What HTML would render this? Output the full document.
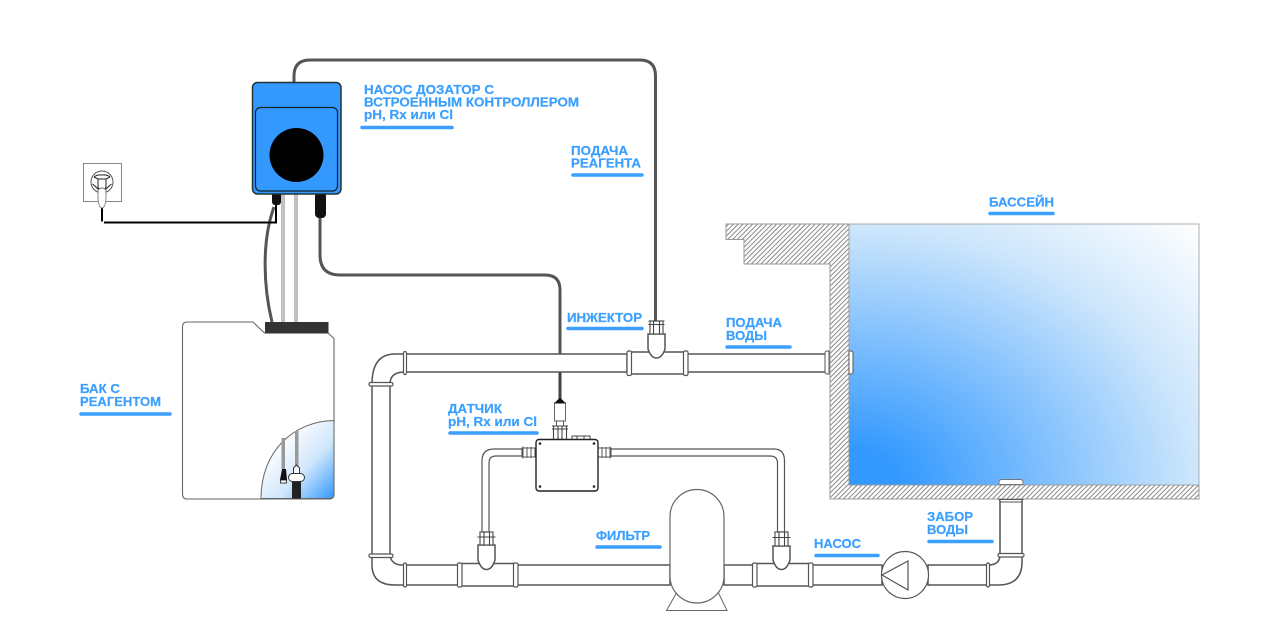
<!DOCTYPE html>
<html><head><meta charset="utf-8"><style>
html,body{margin:0;padding:0;background:#fff}
svg{display:block}
text{font-family:"Liberation Sans",sans-serif;font-weight:700;font-size:13px;fill:#3a9fff;stroke:#3a9fff;stroke-width:.2px}
.u{stroke:#3a9fff;stroke-width:3.5;stroke-linecap:round;fill:none}
.p{fill:#fff;stroke:#555;stroke-width:1.5}
.t{fill:#fff;stroke:#555;stroke-width:1.2}
.c{fill:none;stroke:#555;stroke-width:3}
</style></head><body>
<svg width="1280" height="640" viewBox="0 0 1280 640" xmlns="http://www.w3.org/2000/svg">
<defs>
<pattern id="h" width="3.4" height="3.4" patternUnits="userSpaceOnUse" patternTransform="rotate(45)"><rect width="3.4" height="3.4" fill="#fff"/><rect width="1" height="3.4" fill="#888"/></pattern>
<radialGradient id="pool" cx="0" cy="1" r="1.414" gradientUnits="objectBoundingBox">
<stop offset="0.1" stop-color="#3399ff"/><stop offset=".707" stop-color="#cfe7fc"/><stop offset="1" stop-color="#ffffff"/></radialGradient>
<linearGradient id="win" x1="0" y1="0" x2="1" y2="1"><stop offset=".25" stop-color="#fff"/><stop offset=".62" stop-color="#cfe6fc"/><stop offset="1" stop-color="#3399ff"/></linearGradient>
</defs>

<!-- pool -->
<path d="M726 224H849V485H1199V499H830V264H744V239.500H726Z" fill="url(#h)" stroke="#999" stroke-width="1"/>
<rect x="849" y="224" width="350" height="261" fill="url(#pool)" stroke="#999" stroke-width=".8"/>

<!-- cables -->
<path class="c" d="M294 82V76Q294 60 310 60H640Q655.500 60 655.500 76V322"/>
<path class="c" d="M320 215V255Q320 275 340 275H545Q560 275 560 290V356"/>
<path d="M560 372V400" stroke="#444" stroke-width="3" fill="none"/>

<!-- main pipes -->
<path class="p" d="M405 354H395Q372 354 372 384V384H390V384Q390 372 405 372Z" />
<rect class="p" x="372" y="384" width="18" height="172"/>
<rect class="p" x="405" y="354" width="222" height="18"/>
<rect class="p" x="686" y="354" width="141" height="18"/>
<path class="p" d="M372 556V565Q372 585 395 585H405V565H402Q392 565 390 556Z"/>
<rect class="p" x="405" y="565" width="53" height="20"/>
<rect class="p" x="516" y="565" width="154" height="20"/>
<rect class="p" x="724" y="565" width="30" height="20"/>
<rect class="p" x="811" y="565" width="71" height="20"/>
<rect class="p" x="928" y="565" width="60" height="20"/>
<path class="p" d="M988 565Q1000 565 1000 555H1022V562Q1022 585 998 585H988Z"/>
<path class="p" d="M1000 555V501H1022V555Z"/>

<!-- collars -->
<rect class="t" x="403.500" y="351.500" width="3" height="23" rx="1.500"/>
<rect class="t" x="369" y="382.500" width="24" height="3.500" rx="1.500"/>
<rect class="t" x="369" y="554" width="24" height="3.500" rx="1.500"/>
<rect class="t" x="403.500" y="563" width="3" height="24" rx="1.500"/>
<rect class="t" x="986.500" y="563" width="3" height="24" rx="1.500"/>
<rect class="t" x="998" y="553.500" width="26" height="3.500" rx="1.500"/>
<path d="M999 499.500L1001 502H1021L1023 499.500Z" fill="#fff" stroke="#555" stroke-width="1"/>
<path d="M999 484.500V482Q999 479.500 1002 479.500H1020Q1023 479.500 1023 482V484.500Z" fill="#fff" stroke="#777" stroke-width="1"/>
<path d="M829 351h-2a2 2 0 0 0-2 2v19a2 2 0 0 0 2 2h2z" fill="#fff" stroke="#555"/>
<path d="M849 351h2a2 2 0 0 1 2 2v19a2 2 0 0 1-2 2h-2z" fill="#fff" stroke="#555"/>

<!-- top T -->
<rect class="p" x="629" y="352" width="56" height="22"/>
<rect class="t" x="627" y="351" width="4.500" height="24.500" rx="1.500"/>
<rect class="t" x="683.500" y="351" width="4.500" height="24.500" rx="1.500"/>
<path class="p" d="M648 334H665V349Q662 358 656.500 358Q651 358 648 349Z"/>
<rect class="t" x="650" y="321" width="13" height="13"/>
<path d="M648.500 321H664.500M648.500 324.500H664.500M653.500 321V334M659.500 321V334" stroke="#444" fill="none" stroke-width="1.100"/>

<!-- thin loop -->
<path d="M522 449H494Q482 449 482 461V532H489V463Q489 456 496 456H522Z" class="t" stroke-width="1.500"/>
<path d="M610 449H774Q784.500 449 784.500 461V532H777.500V463Q777.500 456 770 456H610Z" class="t" stroke-width="1.500"/>

<!-- bottom T left -->
<rect class="p" x="460" y="563.500" width="55" height="22.500"/>
<rect class="t" x="457.500" y="563" width="4.500" height="24" rx="1.500"/>
<rect class="t" x="513.500" y="563" width="4.500" height="24" rx="1.500"/>
<path class="p" d="M478 545H495V560Q492 569.500 486.500 569.500Q481 569.500 478 560Z"/>
<rect class="t" x="480" y="532" width="13" height="13"/>
<path d="M477.500 537H495.500M484 532V545M489.500 532V545" stroke="#444" fill="none" stroke-width="1.100"/>

<!-- bottom T right -->
<rect class="p" x="755" y="563.500" width="55" height="22.500"/>
<rect class="t" x="752.500" y="563" width="4.500" height="24" rx="1.500"/>
<rect class="t" x="808.500" y="563" width="4.500" height="24" rx="1.500"/>
<path class="p" d="M773 546H790V560Q787 569.500 781.500 569.500Q776 569.500 773 560Z"/>
<rect class="t" x="775" y="532" width="13" height="14"/>
<path d="M772.500 537.500H790.500M779 532V546M784.500 532V546" stroke="#444" fill="none" stroke-width="1.100"/>

<!-- filter -->
<path d="M666.500 610.500L677 592H718L727 610.500Z" fill="#fff" stroke="#666" stroke-width="1"/>
<rect x="670" y="489.500" width="54" height="113.500" rx="27" fill="#fff" stroke="#666" stroke-width="1.200"/>

<!-- pump -->
<circle cx="905" cy="575" r="23.500" fill="#fff" stroke="#555" stroke-width="1.200"/>
<path d="M882 575L908 561V590Z" fill="#fff" stroke="#555" stroke-width="1.200"/>

<!-- box -->
<rect x="572" y="436" width="18" height="4" fill="#fff" stroke="#444" stroke-width="1"/>
<path d="M577 436v4M584 436v4" stroke="#444"/>
<rect x="553.500" y="426" width="13" height="13.500" fill="#fff" stroke="#444" stroke-width="1.100"/>
<path d="M552 426H568M552 429H568M558 426V439M562 426V439" stroke="#444" fill="none" stroke-width="1.100"/>
<rect x="554.500" y="403" width="11" height="18" fill="#fff" stroke="#666"/>
<path d="M554 403.500L560 397.500L566 403.500Z" fill="#111"/>
<rect x="556.500" y="421" width="7" height="5" fill="#fff" stroke="#555"/>
<rect x="522" y="448" width="13" height="9" fill="#fff" stroke="#555"/>
<path d="M523 446.500v12M527 447v11M531 447v11" stroke="#555" stroke-width="1"/>
<rect x="598" y="448" width="13" height="9" fill="#fff" stroke="#555"/>
<path d="M602 447v11M606 447v11M610 446.500v12" stroke="#555" stroke-width="1"/>
<rect x="536" y="439.500" width="62" height="51.500" rx="3" fill="#fff" stroke="#222" stroke-width="1.400"/>
<g fill="#222"><circle cx="540" cy="443.500" r="1.300"/><circle cx="594" cy="443.500" r="1.300"/><circle cx="540" cy="486.500" r="1.300"/><circle cx="594" cy="486.500" r="1.300"/></g>

<!-- tank -->
<path d="M187 322H253L264.500 333H328L334 338.500V494Q334 499 329 499H187Q182.500 499 182.500 494V327Q182.500 322 187 322Z" fill="#fff" stroke="#666" stroke-width="1.100"/>
<path d="M261 498.500C261 450 295 421 334 420.500V494Q334 498.500 329 498.500Z" fill="url(#win)" stroke="#666" stroke-width="1"/>
<rect x="281.500" y="438" width="3.500" height="31" fill="#999"/>
<rect x="295" y="431" width="3.500" height="35" fill="#999"/>
<path d="M280 480L282 469H286L287 480Z" fill="#111"/>
<rect x="280.500" y="480" width="6" height="3" fill="#fff" stroke="#111" stroke-width=".8"/>
<rect x="292" y="481" width="9" height="17.500" fill="#222"/>
<path d="M293.500 474V468L296.500 465L299.500 468V474Z" fill="#fff" stroke="#333"/>
<rect x="288.500" y="473.500" width="16" height="8" rx="4" fill="#fff" stroke="#333"/>
<rect x="265" y="322" width="63.500" height="11.500" fill="#333"/>

<!-- tubes -->
<path d="M283 194V322M296 194V322" stroke="#a6a6a6" stroke-width="3.500" fill="none"/>
<path d="M283 194V322M296 194V322" stroke="#eee" stroke-width=".8" fill="none"/>
<path d="M274 207C262 240 263 285 272 322" fill="none" stroke="#555" stroke-width="3"/>

<!-- mains -->
<path d="M102 206V221.500M104 222.500H276V205" fill="none" stroke="#000" stroke-width="2"/>
<rect x="83.500" y="163.500" width="38" height="38" fill="#fff" stroke="#666" stroke-width=".8"/>
<circle cx="102" cy="182" r="11" fill="#fff" stroke="#555"/>
<path d="M94 177Q97 174.500 102 175Q107 174.500 110 177M94 177L98 179H106L110 177M98 179V187L100 191M106 179V187L104 191M95 186L99 190M109 186L105 190M92.500 184L95 186M111.500 184L109 186" fill="none" stroke="#222" stroke-width="1"/>
<path d="M98 190V199Q99 208 102 208Q105 208 106 199V190Q102 186 98 190Z" fill="#fff" stroke="#777" stroke-width=".9"/>

<!-- controller -->
<rect x="272" y="192" width="9" height="13" rx="3" fill="#111"/>
<rect x="315" y="192" width="11" height="26" rx="4" fill="#111"/>
<rect x="252.500" y="82.500" width="88.500" height="111.500" rx="5" fill="#3399ff" stroke="#233" stroke-width="1.500"/>
<rect x="255.500" y="107.500" width="82" height="83.500" rx="5" fill="#3399ff" stroke="#122" stroke-width="1.200"/>
<circle cx="296.500" cy="155" r="27" fill="#000"/>

<!-- labels -->
<text x="364" y="94" textLength="130" lengthAdjust="spacingAndGlyphs">НАСОС ДОЗАТОР С</text>
<text x="364" y="106.500" textLength="215" lengthAdjust="spacingAndGlyphs">ВСТРОЕННЫМ КОНТРОЛЛЕРОМ</text>
<text x="364" y="119" textLength="89" lengthAdjust="spacingAndGlyphs">pH, Rx или Cl</text>
<path class="u" d="M362 127.500H452"/>
<text x="571" y="155" textLength="57" lengthAdjust="spacingAndGlyphs">ПОДАЧА</text>
<text x="571" y="167.500" textLength="70" lengthAdjust="spacingAndGlyphs">РЕАГЕНТА</text>
<path class="u" d="M573 175H642"/>
<text x="989" y="206.500" textLength="65" lengthAdjust="spacingAndGlyphs">БАССЕЙН</text>
<path class="u" d="M990 213.500H1053"/>
<text x="567" y="322" textLength="75" lengthAdjust="spacingAndGlyphs">ИНЖЕКТОР</text>
<path class="u" d="M568 328.500H642"/>
<text x="726" y="327" textLength="56" lengthAdjust="spacingAndGlyphs">ПОДАЧА</text>
<text x="726" y="340" textLength="41" lengthAdjust="spacingAndGlyphs">ВОДЫ</text>
<path class="u" d="M727 347H790"/>
<text x="80" y="393" textLength="40" lengthAdjust="spacingAndGlyphs">БАК С</text>
<text x="80" y="406" textLength="81" lengthAdjust="spacingAndGlyphs">РЕАГЕНТОМ</text>
<path class="u" d="M81 414H170"/>
<text x="448" y="413" textLength="54" lengthAdjust="spacingAndGlyphs">ДАТЧИК</text>
<text x="448" y="426" textLength="89" lengthAdjust="spacingAndGlyphs">pH, Rx или Cl</text>
<path class="u" d="M450 433H537"/>
<text x="596" y="540" textLength="54" lengthAdjust="spacingAndGlyphs">ФИЛЬТР</text>
<path class="u" d="M597 547H660"/>
<text x="814" y="548" textLength="47" lengthAdjust="spacingAndGlyphs">НАСОС</text>
<path class="u" d="M816 555.500H878"/>
<text x="927" y="521" textLength="46" lengthAdjust="spacingAndGlyphs">ЗАБОР</text>
<text x="927" y="534" textLength="41" lengthAdjust="spacingAndGlyphs">ВОДЫ</text>
<path class="u" d="M929 541.500H992"/>
</svg>
</body></html>
